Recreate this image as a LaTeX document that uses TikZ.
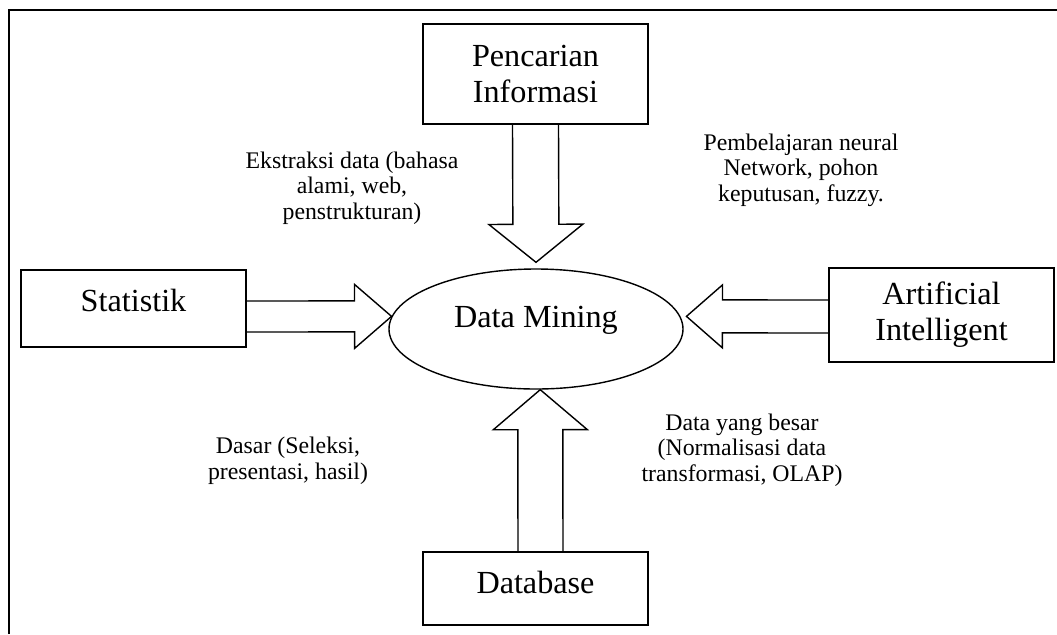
\documentclass[tikz,border=0pt]{standalone}
\usepackage{fontspec}
\setmainfont{Liberation Serif}
\usepackage{tikz}
\usetikzlibrary{shapes.geometric, calc}

\newcommand{\bigtxt}{\fontsize{16.1}{18}\selectfont}
\newcommand{\smalltxt}{\fontsize{11.9}{12.8}\selectfont}

% hollow block arrow: from, to, shaft half width, head half width, head length
\newcommand{\fatarrow}[5]{%
	\coordinate (fa-h) at ($(#2)!#5!(#1)$);
	\draw[fatline] ($(#1)!#3!90:(#2)$) -- ($(fa-h)!#3!90:(#2)$) -- ($(fa-h)!#4!90:(#2)$)
		-- (#2) -- ($(fa-h)!#4!-90:(#2)$) -- ($(fa-h)!#3!-90:(#2)$) -- ($(#1)!#3!-90:(#2)$);
}

\begin{document}
\begin{tikzpicture}[
		x=0.5pt, y=-0.5pt,
		box/.style={draw, rectangle, line width=0.7pt, minimum width=112.5pt, align=center, font=\bigtxt},
		core/.style={draw, ellipse, line width=0.7pt, inner sep=0pt, minimum width=147pt, minimum height=60pt, font=\bigtxt},
		note/.style={align=center, font=\smalltxt},
		fatline/.style={line width=0.7pt, line join=miter}
		]
		\useasboundingbox (0,0) rectangle (1057,634);
		
		% Frame
		\draw[line width=1.1pt] (9,634) -- (9,10) -- (1057,10);
		
		% Nodes
		\node[core, text depth=12.5pt] (dm) at (536,329) {Data Mining};
		
		\node[box, minimum height=50pt] (info) at (535.5,74) {Pencarian\\Informasi};
		
		\node[box, minimum height=38.5pt, text depth=8pt] (stat) at (133.5,308.5) {Statistik};
		
		\node[box, minimum height=47pt] (ai) at (941.5,315) {Artificial\\Intelligent};
		
		\node[box, minimum height=36.5pt, text depth=6pt] (db) at (535.5,588.5) {Database};
		
		% Labels
		\node[note] (lbinfo) at (352,188) {Ekstraksi data (bahasa\\alami, web,\\penstrukturan)};
		\node[note] (lbai) at (801,170) {Pembelajaran neural\\Network, pohon\\keputusan, fuzzy.};
		\node[note] (lbstat) at (288,461) {Dasar (Seleksi,\\presentasi, hasil)};
		\node[note] (lbdb) at (742,450) {Data yang besar\\(Normalisasi data\\transformasi, OLAP)};
		
		% Arrow ends
		\coordinate (infotip) at ([yshift=3pt]dm.north);
		\coordinate (statout) at ([yshift=-4pt]stat.east);
		\coordinate (aiout) at ([yshift=-0.75pt]ai.west);
		\coordinate (aitip) at ([xshift=3pt]dm.5);
		\coordinate (dbout) at ([xshift=2.5pt]db.north);
		
		% Arrows
		\fatarrow{info.south}{infotip}{11.5pt}{23.5pt}{19pt}
		\fatarrow{statout}{dm.175}{7.75pt}{16pt}{18.5pt}
		\fatarrow{aiout}{aitip}{8.25pt}{15.75pt}{18pt}
		\fatarrow{dbout}{dm.-86}{11.25pt}{23.5pt}{20pt}
		
	\end{tikzpicture}
\end{document}
